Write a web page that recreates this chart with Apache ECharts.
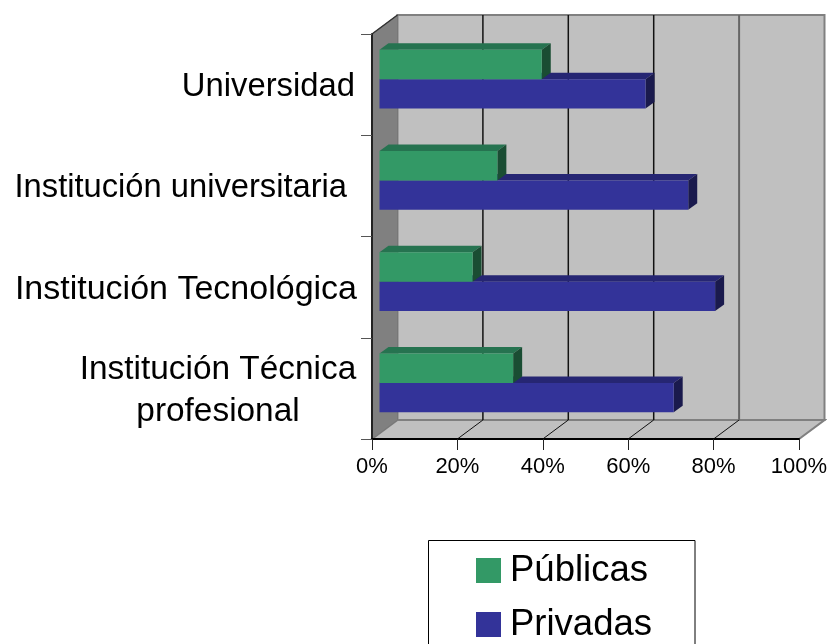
<!DOCTYPE html>
<html>
<head>
<meta charset="utf-8">
<style>
html, body { margin: 0; padding: 0; background: #fff; overflow: hidden; }
#main { width: 827px; height: 644px; }
</style>
<script src="https://cdn.jsdelivr.net/npm/echarts@6/dist/echarts.min.js"></script>
</head>
<body>
<div id="main"></div>
<script>
var categories = ['Universidad', 'Institución universitaria', 'Institución Tecnológica', 'Institución Técnica\nprofesional'];
var publicas = [38, 27.6, 21.8, 31.3];
var privadas = [62.3, 72.3, 78.6, 68.9];
var xTicks = [0, 20, 40, 60, 80, 100];

var FONT = '"Liberation Sans", Arial, sans-serif';
// depth of the fake 3d box
var WALL_DX = 25.5, WALL_DY = -19;
// bars sit in the middle of the depth
var BAR_DX = 7.5, BAR_DY = -5.5, BAR_DEPTH_X = 9, BAR_DEPTH_Y = -6.5;
var BAR_RATIO = 0.29;

function poly(points, fill, stroke, lineWidth) {
    return {
        type: 'polygon',
        shape: { points: points },
        style: { fill: fill, stroke: stroke || null, lineWidth: lineWidth || 0 }
    };
}

function line(a, b, color, width) {
    return {
        type: 'line',
        shape: { x1: a[0], y1: a[1], x2: b[0], y2: b[1] },
        style: { stroke: color, lineWidth: width }
    };
}

function back(p) {
    return [p[0] + WALL_DX, p[1] + WALL_DY];
}

function renderWalls(params, api) {
    // category axis rounds to whole bands, so the edges come from the grid box
    var cs = params.coordSys;
    var top = cs.y, bottom = cs.y + cs.height;
    var x0 = api.coord([0, 0])[0], x1 = api.coord([100, 0])[0];
    var tl = [x0, top], bl = [x0, bottom], br = [x1, bottom], tr = [x1, top];
    return {
        type: 'group',
        children: [
            poly([back(tl), back(tr), back(br), back(bl)], '#C0C0C0', '#808080', 2),
            poly([bl, br, back(br), back(bl)], '#C0C0C0', '#808080', 2),
            poly([tl, back(tl), back(bl), bl], '#808080', '#777', 1),
            line(tl, back(tl), '#333', 1.5)
        ]
    };
}

function renderGrid(params, api) {
    var v = api.value(0);
    if (v === 0 || v === 100) {
        return { type: 'group', children: [] };
    }
    var cs = params.coordSys;
    var x = api.coord([v, 0])[0];
    var p = [x, cs.y + cs.height];
    var q = [x, cs.y];
    var color = v === 80 ? '#666' : '#111';
    var width = v === 80 ? 2 : 1.5;
    return {
        type: 'group',
        children: [
            line(p, back(p), '#111', 1),
            line(back(p), back(q), color, width)
        ]
    };
}

function makeBar(color, top, side, dir) {
    return function (params, api) {
        var v = api.value(0), c = api.value(1);
        var h = api.size([0, 1])[1] * BAR_RATIO;
        var a = api.coord([0, c]);
        var b = api.coord([v, c]);
        var x0 = a[0] + BAR_DX, x1 = b[0] + BAR_DX;
        var y0 = a[1] + BAR_DY + (dir < 0 ? -h : 0);
        var y1 = y0 + h;
        var dx = BAR_DEPTH_X, dy = BAR_DEPTH_Y;
        return {
            type: 'group',
            children: [
                poly([[x0, y0], [x1, y0], [x1 + dx, y0 + dy], [x0 + dx, y0 + dy]], top),
                poly([[x1, y0], [x1 + dx, y0 + dy], [x1 + dx, y1 + dy], [x1, y1]], side),
                poly([[x0, y0], [x1, y0], [x1, y1], [x0, y1]], color)
            ]
        };
    };
}

function toPairs(values) {
    return values.map(function (v, i) { return [v, i]; });
}

var myChart = echarts.init(document.getElementById('main'), null, { renderer: 'canvas' });

var option = {
    backgroundColor: '#fff',
    animation: false,
    textStyle: { fontFamily: FONT },
    grid: { left: 372, top: 34, width: 427, height: 405, containLabel: false, outerBoundsMode: 'none' },
    legend: {
        data: [
            { name: 'Públicas', icon: 'rect' },
            { name: 'Privadas', icon: 'rect' }
        ],
        orient: 'vertical',
        left: 428.5,
        top: 540.5,
        height: 130,
        itemWidth: 25,
        itemHeight: 25,
        itemGap: 17,
        selectedMode: false,
        backgroundColor: '#fff',
        borderColor: '#000',
        borderWidth: 1,
        padding: [11.5, 43, 13, 47.5],
        textStyle: { fontFamily: FONT, fontSize: 36.5, color: '#000', padding: [0, 0, 0, 4] }
    },
    xAxis: {
        type: 'value',
        z: 10,
        min: 0,
        max: 100,
        interval: 20,
        splitLine: { show: false },
        axisLine: { show: true, onZero: false, lineStyle: { color: '#000', width: 2 } },
        axisTick: { show: true, length: 11, lineStyle: { color: '#222', width: 1 } },
        axisLabel: {
            margin: 17,
            fontFamily: FONT,
            fontSize: 22,
            color: '#000',
            formatter: '{value}%'
        }
    },
    yAxis: {
        type: 'category',
        z: 10,
        inverse: true,
        data: categories,
        splitLine: { show: false },
        axisLine: { show: true, onZero: false, lineStyle: { color: '#222', width: 2 } },
        axisTick: { show: true, length: 11, lineStyle: { color: '#555', width: 1 } },
        axisLabel: {
            interval: 0,
            margin: 17,
            padding: [4, 0, 0, 0],
            fontFamily: FONT,
            fontSize: 32.8,
            lineHeight: 42,
            color: '#000',
            formatter: function (value) {
                if (value.indexOf('Tecnológica') >= 0) {
                    return '{t|' + value + '}';
                }
                if (value.indexOf('universitaria') >= 0) {
                    return '{u|' + value + '}';
                }
                if (value.indexOf('\n') < 0) {
                    return value;
                }
                return value.split('\n').map(function (s) {
                    return '{c|' + s + '}';
                }).join('\n');
            },
            rich: {
                c: { width: 276, align: 'center', fontFamily: FONT, fontSize: 33.4, lineHeight: 42, color: '#000', padding: [0, -1, 0, 0] },
                t: { fontFamily: FONT, fontSize: 34, lineHeight: 42, color: '#000', padding: [0, -2, 0, 0] },
                u: { fontFamily: FONT, fontSize: 32.7, lineHeight: 42, color: '#000', padding: [0, 8, 0, 0] }
            }
        }
    },
    series: [
        {
            name: 'walls',
            type: 'custom',
            renderItem: renderWalls,
            clip: false,
            silent: true,
            z: 1,
            encode: { x: 0, y: 1 },
            data: [[0, 0]]
        },
        {
            name: 'gridlines',
            type: 'custom',
            renderItem: renderGrid,
            clip: false,
            silent: true,
            z: 2,
            encode: { x: 0, y: 1 },
            data: xTicks.map(function (t) { return [t, 0]; })
        },
        {
            name: 'Privadas',
            type: 'custom',
            renderItem: makeBar('#333399', '#262673', '#1A1A4D', 1),
            clip: false,
            z: 3,
            itemStyle: { color: '#333399' },
            encode: { x: 0, y: 1 },
            data: toPairs(privadas)
        },
        {
            name: 'Públicas',
            type: 'custom',
            renderItem: makeBar('#339966', '#267350', '#1A4D33', -1),
            clip: false,
            z: 4,
            itemStyle: { color: '#339966' },
            encode: { x: 0, y: 1 },
            data: toPairs(publicas)
        }
    ]
};

myChart.setOption(option);
</script>
</body>
</html>
